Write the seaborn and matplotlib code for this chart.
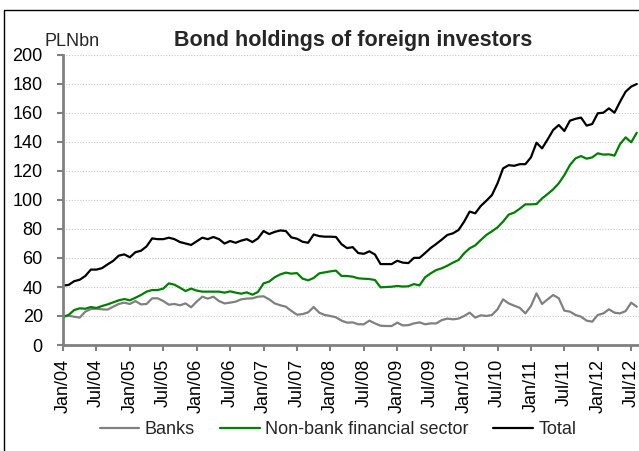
import matplotlib
matplotlib.use("Agg")
import numpy as np
import pandas as pd
import seaborn as sns
import matplotlib.pyplot as plt
from matplotlib.patches import Rectangle
from matplotlib.lines import Line2D

# ---- data (monthly, Jan/04 .. Aug/12), PLN bn ----
banks = [
    19.5, 20.2, 19.5, 18.9, 23.0, 24.8, 25.1, 24.6, 24.4, 26.4, 28.3, 29.2,
    28.3, 30.3, 28.0, 28.3, 32.2, 32.2, 30.3, 27.8, 28.3, 27.4, 28.7, 26.0,
    29.9, 33.3, 32.0, 33.3, 30.3, 28.7, 29.2, 29.9, 31.5, 32.0, 32.2, 33.3,
    33.6, 31.5, 28.7, 27.4, 26.4, 23.5, 20.9, 21.3, 22.5, 26.2, 22.3, 20.7,
    20.0, 19.1, 16.8, 15.4, 15.6, 14.3, 14.3, 16.8, 14.9, 13.3, 13.1, 13.1,
    15.4, 13.5, 13.7, 14.9, 15.6, 14.3, 14.9, 14.9, 17.2, 18.2, 17.7, 18.2,
    20.0, 22.3, 18.9, 20.5, 20.0, 20.7, 24.6, 31.5, 28.7, 27.1, 25.6, 21.8,
    26.9, 35.6, 28.3, 31.5, 34.5, 32.2, 23.7, 23.0, 20.7, 19.5, 16.8, 16.1,
    20.7, 21.8, 24.6, 22.3, 21.8, 23.4, 29.2, 26.4,
]
nonbank = [
    19.5, 20.7, 24.1, 25.3, 25.0, 26.2, 25.5, 26.9, 28.0, 29.4, 30.8, 31.7,
    30.8, 32.6, 34.5, 36.8, 37.9, 37.9, 38.9, 42.5, 41.6, 39.5, 37.2, 38.9,
    37.5, 36.8, 36.8, 36.8, 36.8, 36.1, 37.0, 36.1, 35.4, 36.3, 34.7, 36.6,
    42.5, 43.7, 46.7, 48.7, 49.9, 49.2, 49.6, 45.8, 44.6, 46.2, 49.4, 50.1,
    50.8, 51.3, 47.6, 47.6, 47.1, 46.0, 45.7, 45.5, 44.8, 39.8, 40.0, 40.2,
    40.7, 40.3, 40.5, 42.0, 41.1, 46.7, 49.4, 51.7, 52.9, 54.7, 56.8, 58.6,
    63.2, 66.7, 68.7, 72.4, 75.9, 78.4, 81.1, 85.1, 89.9, 91.3, 94.0, 97.0,
    97.0, 97.2, 101.1, 104.1, 107.4, 111.5, 117.2, 124.1, 128.7, 130.3, 128.5, 129.4,
    132.2, 131.3, 131.5, 130.6, 138.6, 143.2, 139.8, 146.4,
]
total = [
    41.0, 41.4, 44.0, 45.0, 47.6, 52.0, 52.0, 53.0, 55.6, 58.0, 61.6, 62.5,
    60.5, 64.0, 65.0, 68.0, 73.5, 73.0, 73.0, 74.0, 73.0, 71.0, 70.0, 69.0,
    71.5, 74.0, 73.0, 74.5, 73.0, 70.0, 71.7, 70.5, 72.0, 73.0, 71.0, 73.5,
    78.6, 76.5, 78.0, 79.0, 78.6, 74.2, 73.3, 71.2, 70.5, 76.2, 75.1, 74.7,
    74.7, 74.5, 69.5, 66.8, 67.5, 63.4, 62.9, 64.6, 62.4, 55.8, 55.8, 55.8,
    58.1, 56.8, 56.5, 60.1, 60.1, 63.4, 66.9, 69.7, 72.7, 75.9, 77.0, 79.3,
    85.0, 92.0, 90.8, 95.9, 99.5, 103.4, 111.5, 121.8, 124.0, 123.6, 124.7, 124.7,
    129.4, 139.5, 135.6, 141.8, 148.3, 151.7, 147.6, 154.7, 156.0, 156.8, 151.3, 152.4,
    159.8, 160.2, 163.2, 160.2, 167.8, 174.7, 178.2, 180.0,
]
series_names = ["Banks", "Non-bank financial sector", "Total"]
series_colors = ["#808080", "#008000", "#000000"]
tick_labels = [f"{m}/{y:02d}" for y in range(4, 13) for m in ("Jan", "Jul")]
y_ticks = list(range(0, 201, 20))

months = np.arange(len(total))
df = pd.DataFrame({
    "month": np.concatenate([months, months, months]),
    "value": banks + nonbank + total,
    "series": [series_names[0]] * len(banks) + [series_names[1]] * len(nonbank)
              + [series_names[2]] * len(total),
})

sns.set_theme(style="white")
plt.rcParams["font.family"] = ["Liberation Sans", "DejaVu Sans"]

W, H = 639, 451
FS = 13
fig = plt.figure(figsize=(W / 100, H / 100), dpi=100)
ax = fig.add_axes([63 / W, 106 / H, 576 / W, 290 / H])

palette = dict(zip(series_names, series_colors))
sns.lineplot(data=df, x="month", y="value", hue="series", hue_order=series_names,
             palette=palette, linewidth=1.6, ax=ax, legend=False)

ax.set_xlim(0, 103.4)
ax.set_ylim(0, 200)
ax.set_yticks(y_ticks)
ax.set_xticks(np.arange(0, 6 * len(tick_labels), 6))
ax.set_xticklabels(tick_labels, rotation=90)
ax.set_xlabel("")
ax.set_ylabel("")
ax.grid(axis="y", linestyle=(0, (1, 1.5)), color="#c8c8c8", linewidth=0.8)
ax.grid(axis="x", visible=False)
for s in ("top", "right"):
    ax.spines[s].set_visible(False)
for s in ("left", "bottom"):
    ax.spines[s].set_color("#808080")
    ax.spines[s].set_linewidth(2)
ax.tick_params(axis="x", bottom=True, length=4, width=1.5, color="#808080",
               labelsize=FS, pad=6, labelcolor="black")
ax.tick_params(axis="y", left=True, length=4.5, width=1.5, color="#808080",
               labelsize=FS, pad=10, labelcolor="black")

fig.text(45 / W, 1 - 46 / H, "PLNbn", fontsize=FS, va="baseline", ha="left")
fig.text(353 / W, 1 - 46 / H, "Bond holdings of foreign investors", fontsize=15.5,
         fontweight="bold", ha="center", va="baseline")

handles = [Line2D([], [], color=c, lw=1.6) for c in series_colors]
fig.legend(handles, series_names, loc="center", bbox_to_anchor=(338 / W, 21 / H),
           ncol=3, frameon=False, fontsize=FS, handlelength=2.2,
           handletextpad=0.28, columnspacing=1.4)

fig.add_artist(Rectangle((4 / W, -0.1), 1.2, (H - 10) / H + 0.1,
                         transform=fig.transFigure, fill=False,
                         edgecolor="black", linewidth=1))

fig.savefig("out.png", dpi=100)
